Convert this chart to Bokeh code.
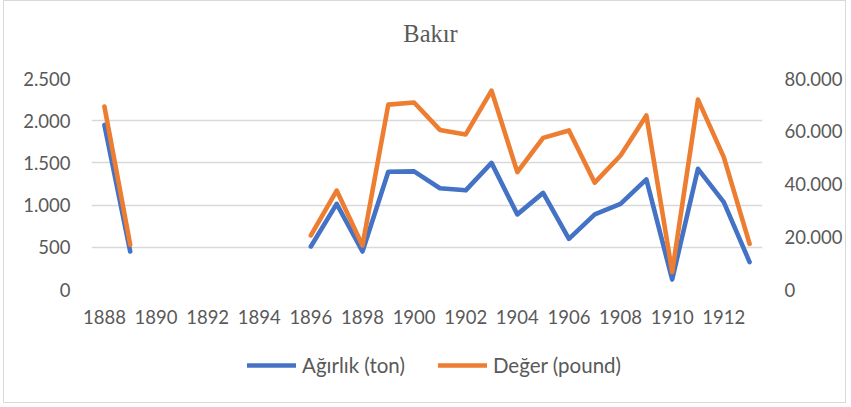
from bokeh.plotting import figure
from bokeh.layouts import column
from bokeh.models import (Range1d, LinearAxis, FixedTicker, Legend, LegendItem, Label)
from bokeh.embed import file_html
from bokeh.resources import INLINE

NaN = float("nan")

years = list(range(1888, 1914))
weight_ton = [1950, 450, NaN, NaN, NaN, NaN, NaN, NaN, 510, 1015, 450, 1395, 1400,
              1200, 1175, 1500, 890, 1145, 600, 890, 1015, 1305, 118, 1430, 1035, 325]
value_pound = [69400, 17000, NaN, NaN, NaN, NaN, NaN, NaN, 20500, 37500, 16700, 70100,
               70900, 60500, 58800, 75400, 44500, 57500, 60300, 40500, 50800, 66000,
               6600, 72000, 50200, 17300]

x_ticks = list(range(1888, 1913, 2))
x_labels = [str(y) for y in x_ticks]
left_ticks = [0, 500, 1000, 1500, 2000, 2500]
left_labels = ["0", "500", "1.000", "1.500", "2.000", "2.500"]
right_ticks = [0, 20000, 40000, 60000, 80000]
right_labels = ["0", "20.000", "40.000", "60.000", "80.000"]

title_text = "Bakır"
series_names = ["Ağırlık (ton)", "Değer (pound)"]
colors = ["#4472C4", "#ED7D31"]

FONT = "Lato"
TXT = "#595959"
FS = "18.5px"
W = 841

# title strip
tp = figure(width=W, height=60, output_backend="svg", toolbar_location=None,
            x_range=Range1d(0, 1), y_range=Range1d(0, 1),
            x_axis_type=None, y_axis_type=None, min_border=0)
tp.outline_line_color = None
tp.xgrid.visible = False
tp.ygrid.visible = False
tp.add_layout(Label(x=339, y=28, x_units="screen", y_units="screen",
                    text=title_text, text_align="center", text_baseline="middle",
                    text_font="Liberation Serif", text_font_size="24.5px",
                    text_color=TXT))

# main chart
p = figure(frame_width=671, frame_height=211, output_backend="svg",
           toolbar_location=None,
           x_range=Range1d(1887.5, 1913.5), y_range=Range1d(0, 2500),
           min_border_left=87, min_border_right=83, min_border_top=17,
           min_border_bottom=50)
p.extra_y_ranges = {"val": Range1d(0, 80000)}

p.outline_line_color = None
p.xgrid.visible = False
p.ygrid.grid_line_color = "#d9d9d9"
p.ygrid.grid_line_width = 1.3
p.ygrid.ticker = FixedTicker(ticks=left_ticks)

r1 = p.line(years, weight_ton, line_color=colors[0], line_width=4.6,
            line_cap="round", line_join="round")
r2 = p.line(years, value_pound, line_color=colors[1], line_width=4.6,
            line_cap="round", line_join="round", y_range_name="val")

raxis = LinearAxis(y_range_name="val")
p.add_layout(raxis, "right")

for ax in [p.xaxis[0], p.yaxis[0], raxis]:
    ax.axis_line_color = None
    ax.major_tick_line_color = None
    ax.minor_tick_line_color = None
    ax.major_label_text_color = TXT
    ax.major_label_text_font = FONT
    ax.major_label_text_font_size = FS

p.xaxis[0].ticker = FixedTicker(ticks=x_ticks)
p.xaxis[0].major_label_overrides = dict(zip(x_ticks, x_labels))
p.xaxis[0].major_label_standoff = 14

p.yaxis[0].ticker = FixedTicker(ticks=left_ticks)
p.yaxis[0].major_label_overrides = dict(zip(left_ticks, left_labels))
p.yaxis[0].major_label_standoff = 15

raxis.ticker = FixedTicker(ticks=right_ticks)
raxis.major_label_overrides = dict(zip(right_ticks, right_labels))
raxis.major_label_standoff = 16

# legend strip below the chart (same series, drawn outside its visible range)
lg = figure(width=W, height=63, output_backend="svg", toolbar_location=None,
            x_range=Range1d(0, 1), y_range=Range1d(0, 1),
            x_axis_type=None, y_axis_type=None, min_border=0)
lg.outline_line_color = None
lg.xgrid.visible = False
lg.ygrid.visible = False
d1 = lg.line(years, weight_ton, line_color=colors[0], line_width=4.6, line_cap="round")
d2 = lg.line(years, value_pound, line_color=colors[1], line_width=4.6, line_cap="round")
legend = Legend(items=[LegendItem(label=series_names[0], renderers=[d1]),
                       LegendItem(label=series_names[1], renderers=[d2])],
                orientation="horizontal", location=(156, 25),
                border_line_color=None, background_fill_alpha=0,
                label_text_font=FONT, label_text_font_size="20.5px",
                label_text_color=TXT, glyph_width=49, glyph_height=20,
                label_standoff=6, spacing=33, margin=0, padding=0)
lg.add_layout(legend, "center")

layout = column(tp, p, lg, spacing=0)
layout.styles = {"border": "1px solid #d9d9d9", "margin-left": "3px"}
open("out.html", "w").write(file_html(layout, INLINE))
